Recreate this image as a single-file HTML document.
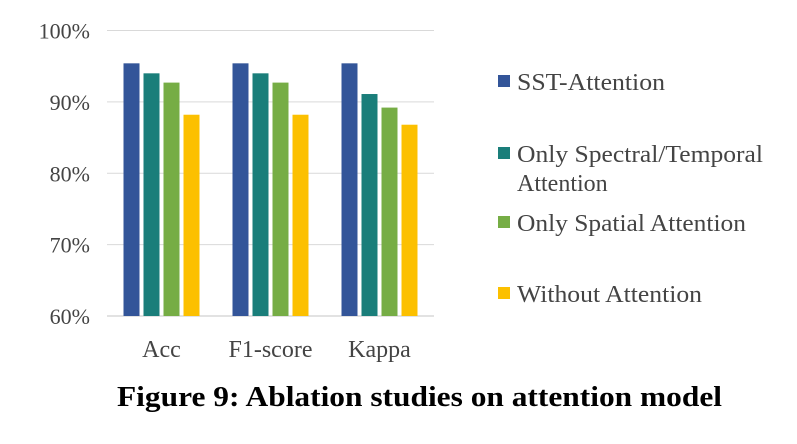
<!DOCTYPE html>
<html><head><meta charset="utf-8"><style>
body{margin:0;background:#fff;width:797px;height:439px;overflow:hidden}
text{font-family:"Liberation Serif",serif}
</style></head><body>
<svg width="797" height="439">
<g id="grid"></g><g id="bars"></g><g id="labels"></g>
<g id="legend"></g>
<text x="117" y="406" textLength="605" lengthAdjust="spacingAndGlyphs" font-size="28" font-weight="bold" fill="#000">Figure 9: Ablation studies on attention model</text>
</svg>
<script>
const categories=["Acc","F1-score","Kappa"];
const seriesNames=["SST-Attention","Only Spectral/Temporal Attention","Only Spatial Attention","Without Attention"];
const sst=[95.4,95.4,95.4];
const spectral=[94.0,94.0,91.1];
const spatial=[92.7,92.7,89.2];
const without=[88.2,88.2,86.8];
const ticks=[60,70,80,90,100];
const tickLabels=["60%","70%","80%","90%","100%"];
const colors=["#335599","#1a7e7a","#76ad45","#fcc000"];
const series=[sst,spectral,spatial,without];
const NS="http://www.w3.org/2000/svg";
const x0=107,x1=434,yTop=30.5,yBot=316,vMin=60,vMax=100;
const y=v=>yBot-(v-vMin)/(vMax-vMin)*(yBot-yTop);
const band=(x1-x0)/categories.length;
function mk(tag,attrs,parent){const e=document.createElementNS(NS,tag);for(const k in attrs)e.setAttribute(k,attrs[k]);document.getElementById(parent).appendChild(e);return e;}
ticks.forEach((t,i)=>{
 const l=mk("line",{x1:x0,x2:x1,y1:y(t),y2:y(t),stroke:"#d9d9d9","stroke-width":t===60?1.5:1},"grid");
 
 
 const tx=mk("text",{x:90,y:y(t)+8,"text-anchor":"end","font-size":22,fill:"#444"},"labels");
 tx.textContent=tickLabels[i];
 
 
});
const bw=16,step=20;
categories.forEach((c,ci)=>{
 const cx=x0+band*(ci+0.5);
 series.forEach((s,si)=>{
  const bx=cx-2*step+si*step+2;
  const r=mk("rect",{x:bx,y:y(s[ci]),width:bw,height:yBot-y(s[ci]),fill:colors[si]},"bars");
  
  
 });
 const tx=mk("text",{x:cx,y:357,"text-anchor":"middle","font-size":24,fill:"#444"},"labels");
 tx.textContent=c;
 
 
});
const legY=[83,155,224,295];
const legW=[148,246,229,185];
seriesNames.forEach((n,i)=>{
 const r=mk("rect",{x:498,y:legY[i]-8,width:12,height:12,fill:colors[i]},"legend");
 
 
 const t=mk("text",{x:517,y:legY[i]+7,"font-size":24,fill:"#444",textLength:legW[i],lengthAdjust:"spacingAndGlyphs"},"legend");
 
 
 if(i===1){t.textContent="Only Spectral/Temporal";const t2=mk("text",{x:517,y:legY[i]+36,"font-size":24,fill:"#444"},"legend");t2.textContent="Attention";
 
 }
 else t.textContent=n;
});
</script>
</body></html>
